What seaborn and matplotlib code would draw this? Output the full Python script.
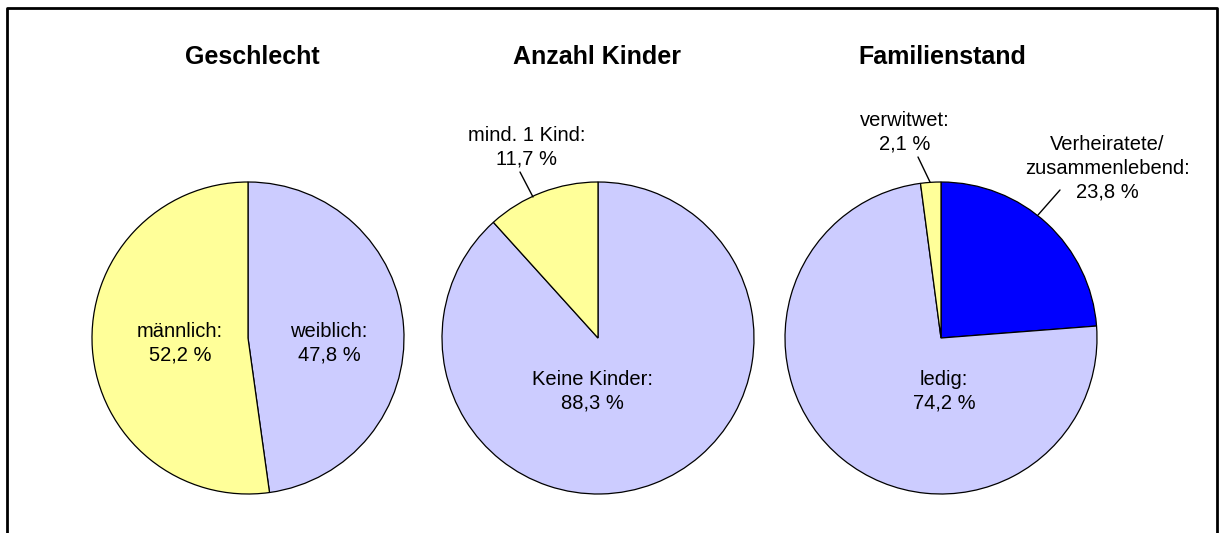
import matplotlib
matplotlib.use("Agg")
import matplotlib.pyplot as plt
import seaborn as sns

# Data
titles = ["Geschlecht", "Anzahl Kinder", "Familienstand"]

geschlecht_labels = ["weiblich", "männlich"]
geschlecht_values = [47.8, 52.2]

kinder_labels = ["Keine Kinder", "mind. 1 Kind"]
kinder_values = [88.3, 11.7]

familie_labels = ["Verheiratete/\nzusammenlebend", "ledig", "verwitwet"]
familie_values = [23.8, 74.2, 2.1]

lavender = "#CCCCFF"
yellow = "#FFFF99"
blue = "#0000FF"

sns.set_style("white")
plt.rcParams["font.family"] = ["Liberation Sans", "DejaVu Sans"]
plt.rcParams["text.color"] = "black"

W, H = 1227, 533
fig = plt.figure(figsize=(W / 100, H / 100), dpi=100)
ax = fig.add_axes([0, 0, 1, 1])

centers_x = [248, 598, 941]
cy = H - 338
radius = 156

pies = [
    (geschlecht_values, [lavender, yellow]),
    (kinder_values, [lavender, yellow]),
    (familie_values, [blue, lavender, yellow]),
]

for (vals, cols), cx in zip(pies, centers_x):
    ax.pie(vals, colors=cols, startangle=90, counterclock=False,
           center=(cx, cy), radius=radius,
           wedgeprops=dict(edgecolor="black", linewidth=0.9))

for title, cx in zip(titles, [252, 597, 942]):
    ax.text(cx, H - 57, title, ha="center", va="center",
            fontsize=18, fontweight="bold", color="black")


def fmt(v):
    return f"{v:.1f}".replace(".", ",") + " %"


lab_kw = dict(ha="center", va="center", multialignment="center",
              fontsize=14.5, linespacing=1.3, color="black")

# label positions (pixels from top)
ax.text(180, H - 343, f"{geschlecht_labels[1]}:\n{fmt(geschlecht_values[1])}", **lab_kw)
ax.text(329, H - 343, f"{geschlecht_labels[0]}:\n{fmt(geschlecht_values[0])}", **lab_kw)
ax.text(592, H - 391, f"{kinder_labels[0]}:\n{fmt(kinder_values[0])}", **lab_kw)
ax.text(527, H - 147, f"{kinder_labels[1]}:\n{fmt(kinder_values[1])}", **lab_kw)
ax.text(944, H - 391, f"{familie_labels[1]}:\n{fmt(familie_values[1])}", **lab_kw)
ax.text(905, H - 132, f"{familie_labels[2]}:\n{fmt(familie_values[2])}", **lab_kw)
ax.text(1107, H - 168, f"{familie_labels[0]}:\n{fmt(familie_values[0])}", **lab_kw)

# leader lines
for (x0, y0), (x1, y1) in [((520, 172), (533, 197)),
                           ((918, 157), (930, 182)),
                           ((1060, 190), (1038, 215))]:
    ax.plot([x0, x1], [H - y0, H - y1], color="black", lw=1)

# chart frame (bottom edge is cut off)
ax.plot([7, 7, 1217, 1217], [-10, H - 8, H - 8, -10], color="black",
        lw=2, clip_on=False)

ax.set_xlim(0, W)
ax.set_ylim(0, H)
ax.set_aspect("auto")
ax.axis("off")

fig.savefig("out.png", dpi=100)
